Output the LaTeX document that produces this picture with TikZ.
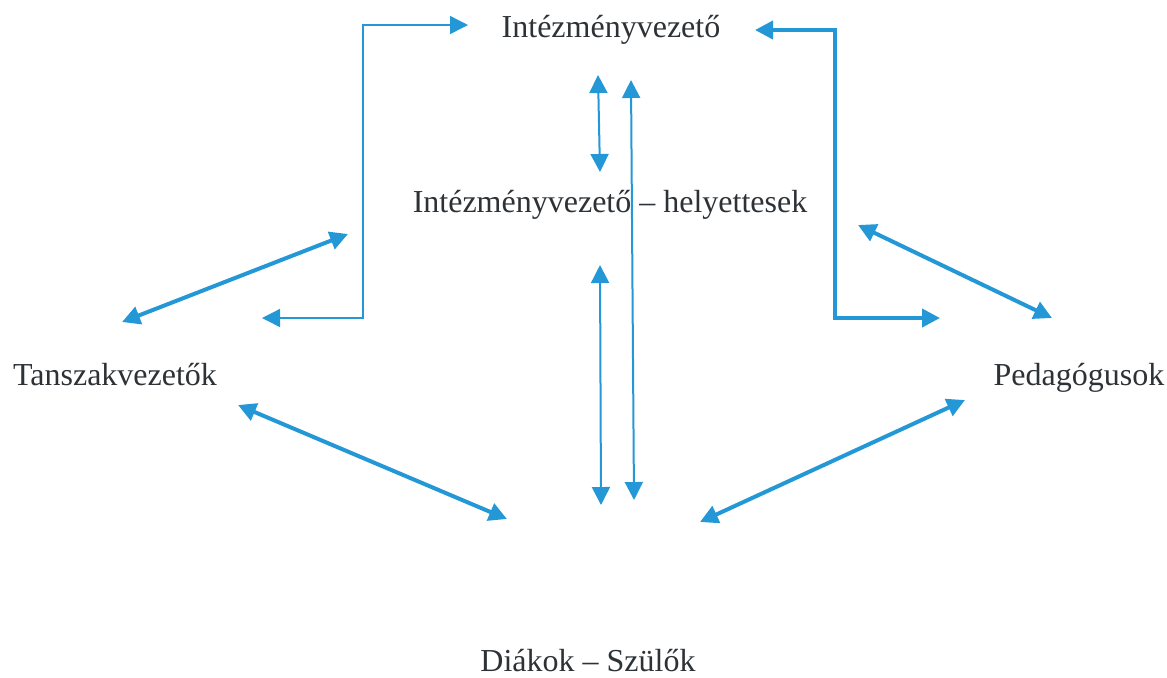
\documentclass[tikz,border=0pt]{standalone}
\usepackage{fontspec}
\setmainfont{Liberation Serif}
\usepackage{tikz}
\usetikzlibrary{arrows.meta}
\definecolor{linkblue}{RGB}{36,152,214}
\definecolor{inktext}{RGB}{45,50,55}

\begin{document}
\begin{tikzpicture}[x=0.5pt, y=-0.5pt,
  role/.style={text=inktext, font=\fontsize{16}{19}\selectfont, inner sep=0pt},
  link/.style={linkblue, line width=2pt, {Triangle[length=9pt,width=9pt]}-{Triangle[length=9pt,width=9pt]}},
  thinlink/.style={link, line width=1pt},
  hairlink/.style={link, line width=0.7pt}]
\useasboundingbox (0,0) rectangle (1167,677);

\node[role] (vezeto)  at (611,30)  {Intézményvezető};
\node[role] (helyett) at (610,205) {Intézményvezető -- helyettesek};
\node[role] (tanszak) at (115,375) {Tanszakvezetők};
\node[role] (pedag)   at (1079,378) {Pedagógusok};
\node[role] (diakok)  at (588,661) {Diákok -- Szülők};

% end points of the arrows
\coordinate (tl1) at (262,318);
\coordinate (tl2) at (468,25);
\coordinate (tr1) at (755,30);
\coordinate (tr2) at (940,318);
\coordinate (ta1) at (122,322);
\coordinate (ta2) at (348,234);
\coordinate (pa1) at (858,225);
\coordinate (pa2) at (1052,318);
\coordinate (tb1) at (238,405);
\coordinate (tb2) at (507,519);
\coordinate (pb1) at (965,400);
\coordinate (pb2) at (700,522);
\coordinate (v1a) at (598,75);
\coordinate (v1b) at (600,172);
\coordinate (v2a) at (631,80);
\coordinate (v2b) at (634,500);
\coordinate (v3a) at (600,265);
\coordinate (v3b) at (601,505);

\draw[hairlink] (tl1) -- (363,318) -- (363,25) -- (tl2);
\draw[link] (tr1) -- (835,30) -- (835,318) -- (tr2);

\draw[link] (ta1) -- (ta2);
\draw[link] (pa1) -- (pa2);
\draw[link] (tb1) -- (tb2);
\draw[link] (pb1) -- (pb2);

\draw[thinlink] (v1a) -- (v1b);
\draw[thinlink] (v2a) -- (v2b);
\draw[thinlink] (v3a) -- (v3b);

\end{tikzpicture}
\end{document}
